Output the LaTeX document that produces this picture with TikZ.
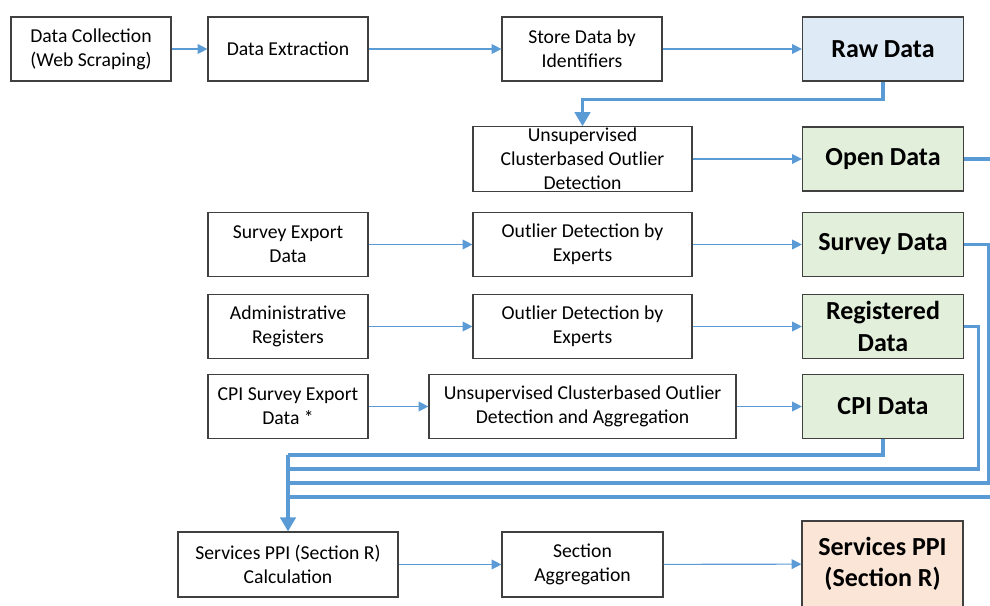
\documentclass[tikz,border=0pt]{standalone}
\usepackage{fontspec}
\setmainfont{Carlito}
\usetikzlibrary{arrows.meta}

\definecolor{linkblue}{HTML}{5B9BD5}
\definecolor{rawblue}{HTML}{DEEBF7}
\definecolor{outgreen}{HTML}{E2EFDA}
\definecolor{ppipeach}{HTML}{FBE5D6}

\begin{document}
\begin{tikzpicture}[x=0.025cm,y=-0.025cm,
    box/.style={draw=black!75,line width=0.8pt,fill=white,align=center,
      minimum width=4cm,minimum height=1.6cm,inner sep=1pt,
      font=\fontsize{14}{17}\selectfont},
    databox/.style={box,font=\fontsize{18.5}{22.5}\selectfont\bfseries},
    flow/.style={draw=linkblue,line width=0.8pt,-{Triangle[length=7pt,width=7pt]}},
    bus/.style={draw=linkblue,line width=2.2pt}]
  \clip (0,0) rectangle (990,605);

  % web scraping chain
  \node[box] (collect) at (91,49) {Data Collection\\(Web Scraping)};
  \node[box] (extract) at (288,49) {Data Extraction};
  \node[box] (store) at (582,49) {Store Data by\\Identifiers};
  \node[databox,fill=rawblue,minimum width=4.025cm] (raw) at (883,49) {Raw Data};
  \node[box,minimum width=5.475cm] (cluster) at (582.5,159) {Unsupervised\\Clusterbased Outlier\\Detection};
  \node[databox,fill=outgreen,minimum width=4.025cm] (open) at (883,159) {Open Data};

  % survey and registers
  \node[box] (svexport) at (288,244.5) {Survey Export\\Data};
  \node[box,minimum width=5.475cm] (expert1) at (582.5,244.5) {Outlier Detection by\\Experts};
  \node[databox,fill=outgreen,minimum width=4.025cm] (survey) at (883,244.5) {Survey Data};
  \node[box] (admin) at (288,326.5) {Administrative\\Registers};
  \node[box,minimum width=5.475cm] (expert2) at (582.5,326.5) {Outlier Detection by\\Experts};
  \node[databox,fill=outgreen,minimum width=4.025cm] (registered) at (883,326.5) {Registered\\Data};

  % cpi
  \node[box] (cpiexport) at (288,406.5) {CPI Survey Export\\Data *};
  \node[box,minimum width=7.675cm] (clusteragg) at (582.5,406.5) {Unsupervised Clusterbased Outlier\\Detection and Aggregation};
  \node[databox,fill=outgreen,minimum width=4.025cm] (cpi) at (883,406.5) {CPI Data};

  % ppi
  \node[box,minimum width=5.5cm,minimum height=1.625cm] (calc) at (288,564.5) {Services PPI (Section R)\\Calculation};
  \node[box,minimum width=4.025cm,minimum height=1.625cm] (secagg) at (582.5,564.5) {Section\\Aggregation};
  \node[databox,fill=ppipeach,minimum width=4.025cm,minimum height=2.15cm] (ppi) at (882.5,564) {Services PPI\\(Section R)};

  \draw[flow] (collect) -- (extract);
  \draw[flow] (extract) -- (store);
  \draw[flow] (store) -- (raw);
  \draw[flow] (cluster) -- (open);
  \draw[flow] (svexport) -- (expert1);
  \draw[flow] (expert1) -- (survey);
  \draw[flow] (admin) -- (expert2);
  \draw[flow] (expert2) -- (registered);
  \draw[flow] (cpiexport) -- (clusteragg);
  \draw[flow] (clusteragg) -- (cpi);
  \draw[flow] (calc) -- (secagg);
  \draw[flow] (secagg) -- (ppi);

  % thick links
  \draw[bus,-{Triangle[length=10pt,width=11pt]}] (raw.south) -- ++(0,18) -| (cluster.north);
  \coordinate (bus1) at (288,455);
  \coordinate (bus2) at (288,469);
  \coordinate (bus3) at (288,483);
  \coordinate (bus4) at (288,497);
  \draw[bus] (cpi.south) |- (bus1);
  \draw[bus] (registered.east) -- ++(14,0) |- (bus2);
  \draw[bus] (survey.east) -- ++(24,0) |- (bus3);
  \draw[bus] (open.east) -- ++(32,0) |- (bus4);
  \draw[bus,-{Triangle[length=10pt,width=11pt]}] (bus1) -- (calc.north);
\end{tikzpicture}
\end{document}
